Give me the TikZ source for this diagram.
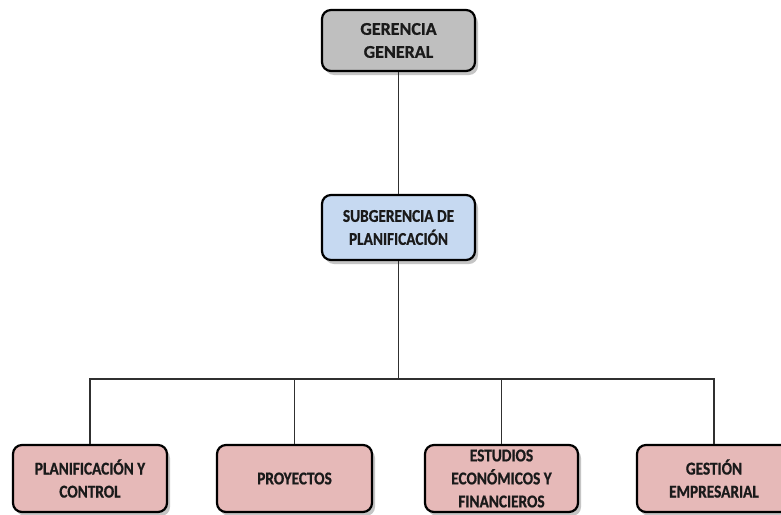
\documentclass[tikz,border=0pt]{standalone}
\usepackage{fontspec}
\setmainfont{Carlito}[FakeStretch=0.85, BoldFeatures={FakeBold=0.8}]
\newfontfamily\widefont{Carlito}[FakeStretch=1.0, BoldFeatures={FakeBold=0.8}]
\usetikzlibrary{shadows}
\definecolor{grayfill}{HTML}{BFBFBF}
\definecolor{bluefill}{HTML}{C6D9F1}
\definecolor{pinkfill}{HTML}{E6B9B8}
\definecolor{linec}{HTML}{303030}
\definecolor{txt}{HTML}{1A1A1A}
\tikzset{
  orgbox/.style={draw=black, line width=2.2pt, rounded corners=9pt, align=center,
    inner sep=0pt, text=txt, font=\bfseries\fontsize{18}{23}\selectfont,
    drop shadow={shadow xshift=3pt, shadow yshift=-4pt, fill=black!45, opacity=0.5}},
  conn/.style={draw=linec, line width=1.3pt}
}
\begin{document}
\begin{tikzpicture}[x=1pt,y=-1pt]
\clip (0,0) rectangle (781,514);
\fill[white] (0,0) rectangle (781,514);
\node[orgbox, fill=grayfill, minimum width=153pt, minimum height=61pt, font=\widefont\bfseries\fontsize{18}{23}\selectfont] (gg) at (398.5,40.5) {GERENCIA\\GENERAL};
\node[orgbox, fill=bluefill, minimum width=153pt, minimum height=65pt] (sp) at (398.5,227.5) {SUBGERENCIA DE\\PLANIFICACIÓN};
\node[orgbox, fill=pinkfill, minimum width=154pt, minimum height=67pt] (b1) at (90,478.5) {PLANIFICACIÓN Y\\CONTROL};
\node[orgbox, fill=pinkfill, minimum width=155pt, minimum height=67pt] (b2) at (294.5,478.5) {PROYECTOS};
\node[orgbox, fill=pinkfill, minimum width=153pt, minimum height=67pt] (b3) at (501.5,478.5) {ESTUDIOS\\ECONÓMICOS Y\\FINANCIEROS};
\node[orgbox, fill=pinkfill, minimum width=154pt, minimum height=67pt] (b4) at (714,478.5) {GESTIÓN\\EMPRESARIAL};
\coordinate (bar) at (398.5,379);
\draw[conn] (gg.south) -- (sp.north);
\draw[conn] (sp.south) -- (bar);
\draw[conn] (b1.north) -- (b1.north |- bar) -- (b4.north |- bar) -- (b4.north);
\draw[conn] (b2.north) -- (b2.north |- bar);
\draw[conn] (b3.north) -- (b3.north |- bar);
\end{tikzpicture}
\end{document}
